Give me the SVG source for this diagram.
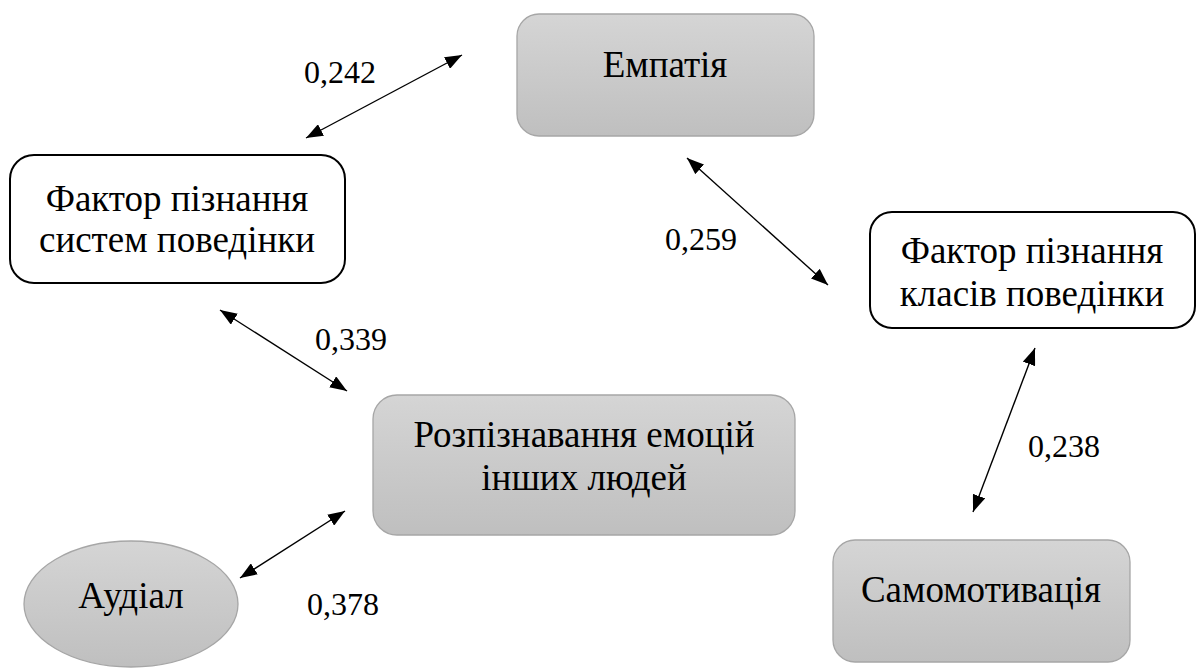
<svg xmlns="http://www.w3.org/2000/svg" width="1198" height="668" viewBox="0 0 1198 668">
  <style>
    .t { font-family: "Liberation Serif", "Liberation Sans", sans-serif; font-size: 37px; fill: #000; text-anchor: middle; }
    .lbl { font-family: "Liberation Serif", "Liberation Sans", sans-serif; font-size: 32px; fill: #000; }
    .grey { fill: url(#g); stroke: #a6a6a6; stroke-width: 1.3; }
    .white { fill: #fff; stroke: #000; stroke-width: 2; }
    .conn { stroke: #000; stroke-width: 1.4; fill: none; marker-start: url(#ah); marker-end: url(#ah); }
  </style>
  <defs>
    <linearGradient id="g" x1="0" y1="0" x2="0" y2="1">
      <stop offset="0" stop-color="#d5d5d5"/>
      <stop offset="1" stop-color="#bfbfbf"/>
    </linearGradient>
    <marker id="ah" viewBox="0 0 17 13" refX="17" refY="6.5" markerWidth="17" markerHeight="13" markerUnits="userSpaceOnUse" orient="auto-start-reverse">
      <path d="M0,0 L17,6.5 L0,13 z" fill="#000"/>
    </marker>
  </defs>
  <rect width="1198" height="668" fill="#fff"/>

  <g id="connectors">
    <line class="conn" x1="306" y1="138" x2="462" y2="55"/>
    <line class="conn" x1="687" y1="158" x2="828" y2="285"/>
    <line class="conn" x1="220" y1="310" x2="347" y2="391"/>
    <line class="conn" x1="240" y1="578" x2="345" y2="511"/>
    <line class="conn" x1="1035" y1="348" x2="973" y2="512"/>
  </g>

  <g id="labels">
    <text class="lbl" x="304" y="83">0,242</text>
    <text class="lbl" x="665" y="250">0,259</text>
    <text class="lbl" x="315" y="350">0,339</text>
    <text class="lbl" x="1028" y="457">0,238</text>
    <text class="lbl" x="307" y="615">0,378</text>
  </g>

  <g id="node-empatiia">
    <rect class="grey" x="517" y="14" width="297" height="122" rx="22"/>
    <text class="t" x="665" y="77">Емпатія</text>
  </g>

  <g id="node-systems">
    <rect class="white" x="10" y="155" width="335" height="128" rx="24"/>
    <text class="t" x="177" y="211">Фактор пізнання</text>
    <text class="t" x="177" y="252">систем поведінки</text>
  </g>

  <g id="node-classes">
    <rect class="white" x="870" y="212" width="325" height="116" rx="22"/>
    <text class="t" x="1032" y="263">Фактор пізнання</text>
    <text class="t" x="1032" y="306">класів поведінки</text>
  </g>

  <g id="node-recognition">
    <rect class="grey" x="373" y="395" width="422" height="140" rx="24"/>
    <text class="t" x="584" y="447">Розпізнавання емоцій</text>
    <text class="t" x="584" y="490">інших людей</text>
  </g>

  <g id="node-audial">
    <ellipse class="grey" cx="131" cy="604" rx="107" ry="63"/>
    <text class="t" x="131" y="608">Аудіал</text>
  </g>

  <g id="node-selfmotivation">
    <rect class="grey" x="833" y="540" width="297" height="122" rx="22"/>
    <text class="t" x="981" y="602">Самомотивація</text>
  </g>
</svg>
